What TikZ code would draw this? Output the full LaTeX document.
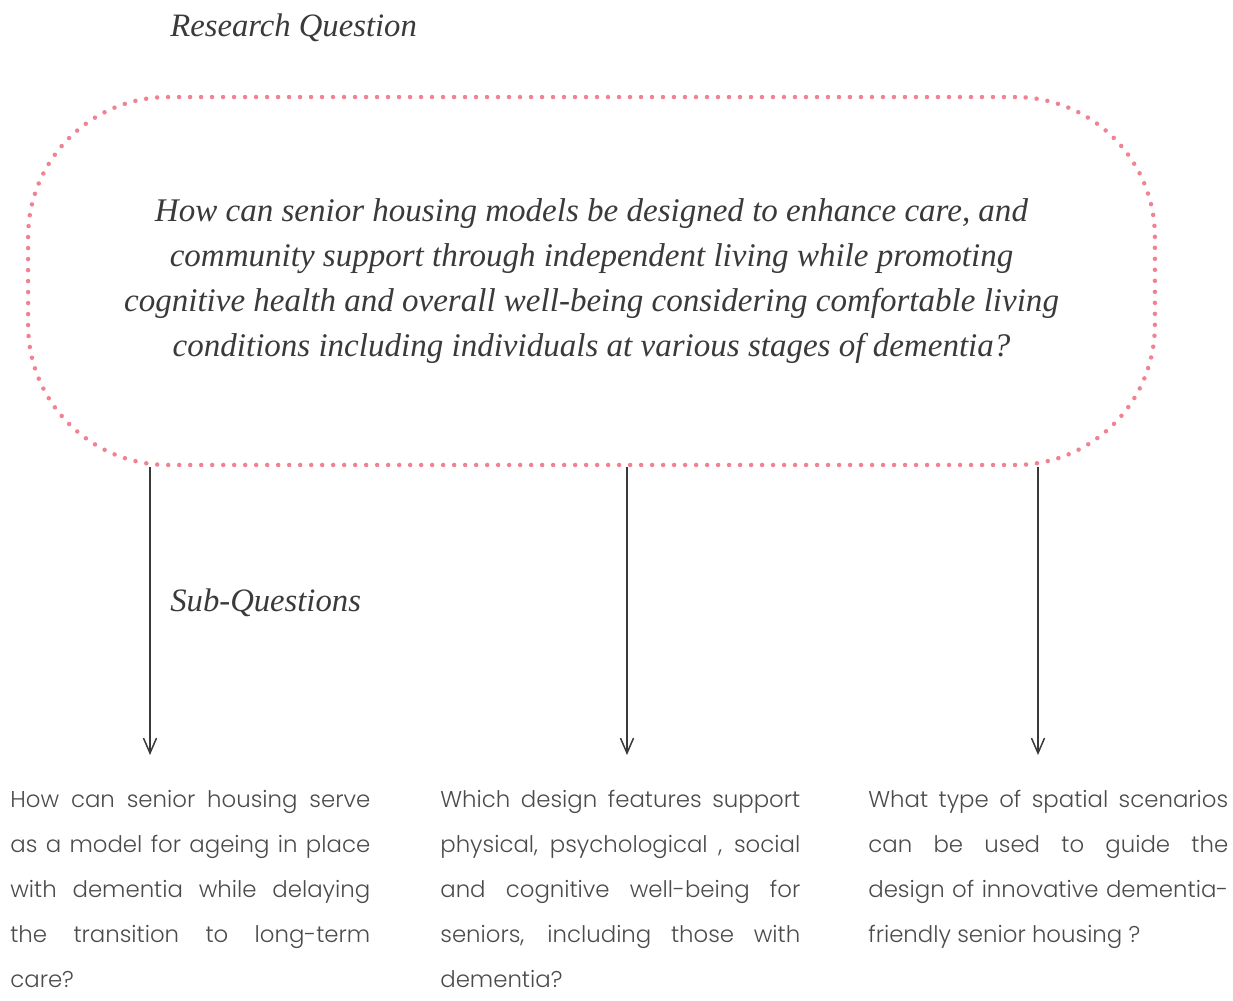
\documentclass[tikz,border=0pt]{standalone}
\usepackage{fontspec}
\setmainfont{Liberation Serif}
\newfontfamily\subfont{Poppins Light}
\usetikzlibrary{arrows.meta}
\hyphenpenalty=10000
\definecolor{dotpink}{RGB}{240,130,146}
\definecolor{ink}{RGB}{58,58,58}
\definecolor{subink}{RGB}{75,75,75}
\tikzset{
  rqbox/.style={draw=dotpink, line width=0.09cm, line cap=round, dash pattern=on 0pt off 0.22cm,
    rounded corners=2.8cm, minimum width=22.54cm, minimum height=7.36cm, align=center,
    text=ink, font=\fontsize{18.8}{25.6}\selectfont\itshape},
  heading/.style={anchor=west, inner sep=0pt, text=ink, font=\fontsize{18.6}{24}\selectfont\itshape},
  subq/.style={anchor=north west, text width=7.2cm, align=justify, inner sep=0pt,
    text=subink, font=\subfont\fontsize{13}{25.6}\selectfont},
  arr/.style={draw=ink, line width=0.03cm, -{Straight Barb[length=0.3cm,width=0.26cm]}}
}
\newcommand{\subquestion}[3]{\node[subq] (#1) at (#2,790) {#3};}

\begin{document}
\begin{tikzpicture}[x=0.02cm, y=-0.02cm]
    \useasboundingbox (0,0) rectangle (1233,1000);
    \node[heading] (rqtitle) at (170,28) {Research Question};
    \node[rqbox] (rq) at (591.5,281) {How can senior housing models be designed to enhance care, and\\
      community support through independent living while promoting\\
      cognitive health and overall well-being considering comfortable living\\
      conditions including individuals at various stages of dementia?};
    \node[heading] (sqtitle) at (170,603) {Sub-Questions};

    \subquestion{sq1}{10}{How can senior housing serve\linebreak as a model for ageing in place\linebreak
      with dementia while delaying\linebreak the transition to long-term\linebreak care?}
    \subquestion{sq2}{440}{Which design features support\linebreak physical, psychological , social\linebreak
      and cognitive well-being for\linebreak seniors, including those with\linebreak dementia?}
    \subquestion{sq3}{868}{What type of spatial scenarios\linebreak can be used to guide the\linebreak
      design of innovative dementia-\linebreak friendly senior housing ?}

    \coordinate (a1) at (150,755); \coordinate (a2) at (627,755); \coordinate (a3) at (1038,755);
    \draw[arr] (rq.south -| a1) -- (a1);
    \draw[arr] (rq.south -| a2) -- (a2);
    \draw[arr] (rq.south -| a3) -- (a3);
\end{tikzpicture}
\end{document}
